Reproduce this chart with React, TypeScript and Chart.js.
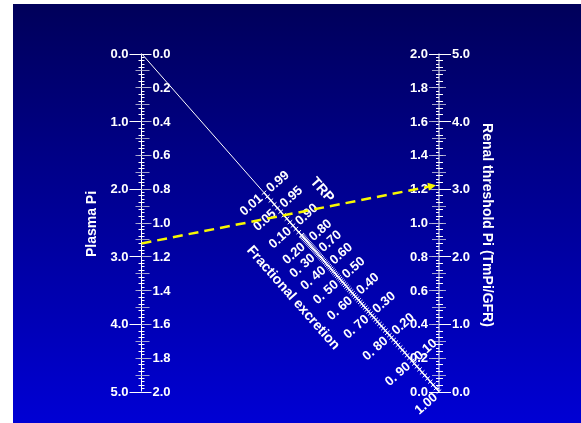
import React, { useEffect, useRef } from "react";
import { Chart, registerables } from "chart.js";

Chart.register(...registerables);

// ---- Data ----
const plasmaMgLabels = [0, 1, 2, 3, 4, 5];
const plasmaMmolLabels = [0, 0.2, 0.4, 0.6, 0.8, 1.0, 1.2, 1.4, 1.6, 1.8, 2.0];
const renalMgLabels = [0, 1, 2, 3, 4, 5];
const renalMmolLabels = [0, 0.2, 0.4, 0.6, 0.8, 1.0, 1.2, 1.4, 1.6, 1.8, 2.0];
const trpTicks = [0.99, 0.95, 0.9, 0.8, 0.7, 0.6, 0.5, 0.4, 0.3, 0.2, 0.1, 0.0];
const trpTickLabels = ["0.99", "0.95", "0.90", "0.80", "0.70", "0.60", "0.50", "0.40", "0.30", "0.20", "0.10", ""];
const feTickLabels = ["0.01", "0.05", "0.10", "0.20", "0. 30", "0. 40", "0. 50", "0. 60", "0. 70", "0. 80", "0. 90", "1.00"];
const examplePlasmaMg = 2.81;
const exampleRenalMg = 3.06;

const FONT = "bold 13px 'Liberation Sans', Arial, sans-serif";
const TITLE_FONT = "bold 14px 'Liberation Sans', Arial, sans-serif";
const GRAY = "rgba(190,190,215,0.85)";

// Walton & Bijvoet relation between TRP and TmP/GFR : Pi ratio
function trpRatio(t: number) {
  return t <= 0.86 ? t : (0.3 * t) / (1 - 0.8 * t);
}
function trpFraction(t: number) {
  return 1 / (1 + trpRatio(t));
}

const nomogramPlugin = {
  id: "nomogram",
  beforeDraw(chart: any) {
    const { ctx, width, height } = chart;
    ctx.save();
    ctx.fillStyle = "#ffffff";
    ctx.fillRect(0, 0, width, height);
    const g = ctx.createLinearGradient(0, 4, 0, height);
    g.addColorStop(0, "#00005a");
    g.addColorStop(1, "#0000d4");
    ctx.fillStyle = g;
    ctx.fillRect(13, 4, width - 13, height - 4);
    ctx.restore();
  },
  afterDatasetsDraw(chart: any) {
    const { ctx } = chart;
    const xs = chart.scales.x;
    const yL = chart.scales.yL;
    const yLm = chart.scales.yLm;
    const yR = chart.scales.yR;
    const yRm = chart.scales.yRm;
    const xL = xs.getPixelForValue(0);
    const xR = xs.getPixelForValue(1);
    ctx.save();
    ctx.lineWidth = 1;
    ctx.font = FONT;
    ctx.fillStyle = "#ffffff";

    const hline = (x1: number, x2: number, y: number, c: string) => {
      ctx.strokeStyle = c;
      ctx.beginPath();
      ctx.moveTo(x1, Math.round(y) + 0.5);
      ctx.lineTo(x2, Math.round(y) + 0.5);
      ctx.stroke();
    };

    // ---------- Left axis ----------
    ctx.strokeStyle = "#ffffff";
    ctx.beginPath();
    ctx.moveTo(xL, yL.getPixelForValue(0));
    ctx.lineTo(xL, yL.getPixelForValue(5));
    ctx.stroke();
    for (let i = 0; i <= 50; i++) {
      const y = yL.getPixelForValue(i / 10);
      hline(xL - 3, xL, y, "#ffffff");
    }
    for (let i = 0; i <= 100; i++) {
      const v = i / 50;
      const y = yLm.getPixelForValue(v);
      if (i % 5 === 0) hline(xL - 6, xL + 8, y, GRAY);
      else hline(xL, xL + 3, y, "#ffffff");
    }
    ctx.textBaseline = "middle";
    ctx.textAlign = "right";
    plasmaMgLabels.forEach((v) => {
      const y = yL.getPixelForValue(v);
      hline(xL - 12, xL, y, "#ffffff");
      ctx.fillText(v.toFixed(1), xL - 13, y + 1);
    });
    ctx.textAlign = "left";
    plasmaMmolLabels.forEach((v) => {
      const y = yLm.getPixelForValue(v);
      hline(xL, xL + 10, y, v === 0 || v === 2 ? "#ffffff" : GRAY);
      ctx.fillText(v.toFixed(1), xL + 11, y + 1);
    });

    // ---------- Right axis ----------
    ctx.strokeStyle = "#ffffff";
    ctx.beginPath();
    ctx.moveTo(xR, yR.getPixelForValue(0));
    ctx.lineTo(xR, yR.getPixelForValue(5));
    ctx.stroke();
    for (let i = 0; i <= 50; i++) {
      const y = yR.getPixelForValue(i / 10);
      hline(xR, xR + 4, y, "#ffffff");
    }
    for (let i = 0; i <= 100; i++) {
      const v = i / 50;
      const y = yRm.getPixelForValue(v);
      if (i % 5 === 0) hline(xR - 7, xR + 7, y, GRAY);
      else hline(xR - 3, xR, y, "#ffffff");
    }
    ctx.textAlign = "left";
    renalMgLabels.forEach((v) => {
      const y = yR.getPixelForValue(v);
      hline(xR, xR + 12, y, "#ffffff");
      ctx.fillText(v.toFixed(1), xR + 13, y + 1);
    });
    ctx.textAlign = "right";
    renalMmolLabels.forEach((v) => {
      const y = yRm.getPixelForValue(v);
      hline(xR - 10, xR, y, v === 0 || v === 2 ? "#ffffff" : GRAY);
      ctx.fillText(v.toFixed(1), xR - 11, y + 1);
    });

    // ---------- Diagonal TRP / FE scale ----------
    const dx = xR - xL;
    const dy = yL.getPixelForValue(5) - yL.getPixelForValue(0);
    const len = Math.sqrt(dx * dx + dy * dy);
    const nx = dy / len;
    const ny = -dx / len;
    const ang = Math.atan2(ny, nx);
    const diagPt = (t: number) => {
      const s = trpFraction(t);
      return { x: xs.getPixelForValue(s), y: yL.getPixelForValue(5 * s) };
    };
    ctx.strokeStyle = "#ffffff";
    for (let i = 0; i <= 99; i++) {
      const p = diagPt(i / 100);
      const L = 3;
      ctx.beginPath();
      ctx.moveTo(p.x - nx * L, p.y - ny * L);
      ctx.lineTo(p.x + nx * L, p.y + ny * L);
      ctx.stroke();
    }
    ctx.beginPath();
    const pTop = diagPt(0.99);
    const pBot = diagPt(0);
    ctx.lineWidth = 1.5;
    ctx.moveTo(pTop.x, pTop.y);
    ctx.lineTo(pBot.x, pBot.y);
    ctx.stroke();
    ctx.lineWidth = 1;
    ctx.textBaseline = "middle";
    trpTicks.forEach((t, i) => {
      const p = diagPt(t);
      if (trpTickLabels[i]) {
        ctx.save();
        ctx.translate(p.x + nx * 5, p.y + ny * 5);
        ctx.rotate(ang);
        ctx.textAlign = "left";
        ctx.fillText(trpTickLabels[i], 0, 1);
        ctx.restore();
      }
      ctx.save();
      ctx.translate(p.x - nx * 5, p.y - ny * 5);
      ctx.rotate(ang);
      ctx.textAlign = "right";
      ctx.fillText(feTickLabels[i], 0, 1);
      ctx.restore();
    });

    // scale titles along the diagonal
    ctx.font = TITLE_FONT;
    const dAng = Math.atan2(dy, dx);
    ctx.textAlign = "center";
    ctx.save();
    ctx.translate(322, 190);
    ctx.rotate(dAng);
    ctx.fillText("TRP", 0, 0);
    ctx.restore();
    ctx.save();
    ctx.translate(293, 298);
    ctx.rotate(dAng);
    ctx.fillText("Fractional excretion", 0, 0);
    ctx.restore();

    // axis titles
    ctx.save();
    ctx.translate(92, 224);
    ctx.rotate(-Math.PI / 2);
    ctx.fillText("Plasma Pi", 0, 0);
    ctx.restore();
    ctx.save();
    ctx.translate(487, 225);
    ctx.rotate(Math.PI / 2);
    ctx.fillText("Renal threshold Pi (TmPi/GFR)", 0, 0);
    ctx.restore();

    // ---------- Example (yellow dashed line) ----------
    const y1 = yL.getPixelForValue(examplePlasmaMg);
    const y2 = yR.getPixelForValue(exampleRenalMg);
    const x1 = xL;
    const tipX = xR - 3;
    const tipY = y1 + ((y2 - y1) * (tipX - x1)) / (xR - x1);
    const ux = tipX - x1;
    const uy = tipY - y1;
    const ul = Math.sqrt(ux * ux + uy * uy);
    const ex = ux / ul;
    const ey = uy / ul;
    ctx.strokeStyle = "#f8f800";
    ctx.fillStyle = "#f8f800";
    ctx.lineWidth = 2.5;
    ctx.setLineDash([10, 6]);
    ctx.beginPath();
    ctx.moveTo(x1, y1);
    ctx.lineTo(tipX - ex * 7, tipY - ey * 7);
    ctx.stroke();
    ctx.setLineDash([]);
    ctx.beginPath();
    ctx.moveTo(tipX, tipY);
    ctx.lineTo(tipX - ex * 8 - ey * 4, tipY - ey * 8 + ex * 4);
    ctx.lineTo(tipX - ex * 8 + ey * 4, tipY - ey * 8 - ex * 4);
    ctx.closePath();
    ctx.fill();
    ctx.restore();
  },
};

export default function App() {
  const ref = useRef<HTMLCanvasElement | null>(null);
  useEffect(() => {
    document.body.style.margin = "0";
    if (!ref.current) return;
    const chart = new Chart(ref.current, {
      type: "scatter",
      data: {
        datasets: [
          {
            type: "line",
            label: "diagonal",
            data: [
              { x: 0, y: 0 },
              { x: 1, y: 5 },
            ],
            yAxisID: "yL",
            borderColor: "#ffffff",
            borderWidth: 1,
            pointRadius: 0,
          } as any,
        ],
      },
      options: {
        animation: false,
        responsive: true,
        maintainAspectRatio: false,
        layout: { padding: { left: 141.5, right: 142, top: 53.5, bottom: 31.5 } },
        plugins: { legend: { display: false }, tooltip: { enabled: false } },
        events: [],
        scales: {
          x: { type: "linear", min: 0, max: 1, display: false },
          yL: { type: "linear", min: 0, max: 5, reverse: true, display: false },
          yLm: { type: "linear", min: 0, max: 2, reverse: true, display: false },
          yR: { type: "linear", min: 0, max: 5, display: false, position: "right" },
          yRm: { type: "linear", min: 0, max: 2, display: false, position: "right" },
        },
      },
      plugins: [nomogramPlugin],
    });
    return () => chart.destroy();
  }, []);
  return (
    <div style={{ position: "relative", width: 581, height: 423 }}>
      <canvas ref={ref} />
    </div>
  );
}
